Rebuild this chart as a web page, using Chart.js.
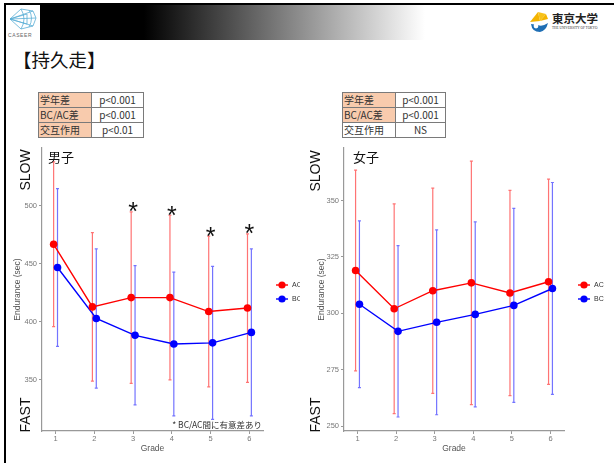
<!DOCTYPE html>
<html>
<head>
<meta charset="utf-8">
<script src="https://cdn.jsdelivr.net/npm/chart.js@4.4.1/dist/chart.umd.min.js"></script>
<style>
  body { margin: 0; width: 614px; height: 463px; overflow: hidden; background: #fff; position: relative;
         font-family: "Liberation Sans", Arial, sans-serif; }
  .line-top { position: absolute; left: 4px; top: 3px; width: 610px; height: 2px; background: #000; }
  .line-left { position: absolute; left: 4px; top: 3px; width: 2px; height: 460px; background: #000; }
  .bar { position: absolute; left: 40px; top: 5px; width: 385px; height: 35px;
         background: linear-gradient(to right, #000 0%, #000 27%, #fff 100%); }
  .logo { position: absolute; left: 7px; top: 6px; }
  .utokyo { position: absolute; left: 528px; top: 10px; }
  .title { position: absolute; left: 13px; top: 46px; font-size: 18.5px; color: #111;
           font-family: "Noto Sans CJK JP", sans-serif; }
  table.stats { position: absolute; top: 92px; border-collapse: collapse; font-size: 10px;
                font-family: "Noto Sans CJK JP", sans-serif; color: #333; }
  table.stats td { border: 1px solid #7a7a7a; height: 14px; padding: 0 1px; line-height: 14px; }
  table.stats td.k { background: #f8cbad; width: 50px; text-align: left; }
  table.stats td.k.plain { background: #fff; }
  table.stats td.v { text-align: center; }
  #boys { position: absolute; left: 0; top: 140px; }
  #girls { position: absolute; left: 300px; top: 140px; }
</style>
</head>
<body>
<div class="line-top"></div>
<div class="line-left"></div>
<div class="bar"></div>
<svg class="logo" width="32" height="34" viewBox="0 0 32 34">
  <g fill="none" stroke="#5aaed6" stroke-width="0.8">
    <path d="M3 13 L14 3 L26 5 L29 12 L26 20 L14 23 Z"/>
    <path d="M3 13 L29 12 M3 13 L26 5 M3 13 L26 20 M3 13 L20 8 L20 18 Z"/>
    <path d="M14 3 Q20 13 14 23 M22 4 Q27 12 22 21"/>
  </g>
  <text x="1" y="31" font-size="5" letter-spacing="0.6" fill="#666" font-family="Liberation Sans">CASEER</text>
</svg>
<svg class="utokyo" width="84" height="24" viewBox="0 0 84 24">
  <path d="M2 12 L10 2 L12 11 Z" fill="#f4b400"/>
  <path d="M10 2 L18 4 L12 11 Z" fill="#f7c21a"/>
  <path d="M12 11 L20 9 L18 4 Z" fill="#f4b400"/>
  <path d="M3 14 Q4 22 12 22 Q18 21 20 13 Q14 17 10 15 Z" fill="#1f6fb5"/>
  <circle cx="8" cy="16" r="2.4" fill="#fff"/>
  <text x="24" y="13" font-size="11.5" font-weight="bold" fill="#222"
        font-family="Noto Sans CJK JP">東京大学</text>
  <text x="24" y="19" font-size="3.4" fill="#333" font-family="Liberation Serif">THE UNIVERSITY OF TOKYO</text>
</svg>
<div class="title">【持久走】</div>

<table class="stats" style="left:38px">
  <tr><td class="k">学年差</td><td class="v" style="width:49px">p&lt;0.001</td></tr>
  <tr><td class="k">BC/AC差</td><td class="v">p&lt;0.001</td></tr>
  <tr><td class="k">交互作用</td><td class="v">p&lt;0.01</td></tr>
</table>
<table class="stats" style="left:342px">
  <tr><td class="k">学年差</td><td class="v" style="width:47px">p&lt;0.001</td></tr>
  <tr><td class="k">BC/AC差</td><td class="v">p&lt;0.001</td></tr>
  <tr><td class="k plain">交互作用</td><td class="v">NS</td></tr>
</table>

<canvas id="boys" width="300" height="323"></canvas>
<canvas id="girls" width="314" height="323"></canvas>

<script>
const grades = [1, 2, 3, 4, 5, 6];

// boys: mean and SD per grade (sec)
const boysAC = [467, 413, 421, 421, 409, 412];
const boysACsd = [71, 64, 74, 71, 65, 64];
const boysBC = [447, 403, 388.5, 381, 382, 391];
const boysBCsd = [68, 60, 60, 62, 66, 72];
const boysSignif = [false, false, true, true, true, true];
const boysTicks = [350, 400, 450, 500];
const boysRange = [306, 550];

// girls
const girlsAC = [319, 302, 310, 313.5, 309, 314];
const girlsACsd = [44.5, 46.5, 45.5, 54, 45.5, 45.5];
const girlsBC = [304, 292, 296, 299.5, 303.5, 311];
const girlsBCsd = [37, 38, 41, 41, 43, 47];
const girlsTicks = [250, 275, 300, 325, 350];
const girlsRange = [247.8, 373.3];

const dodge = 0.05;
const sansJP = '"Noto Sans CJK JP", sans-serif';

function series(label, color, errColor, means, sds, shift) {
  return {
    label,
    data: grades.map((g, i) => ({ x: g + shift, y: means[i] })),
    sd: sds,
    errColor,
    borderColor: color,
    backgroundColor: color,
    borderWidth: 1.4,
    pointRadius: 3.8,
    pointHoverRadius: 3.8,
    pointBorderWidth: 0,
    tension: 0
  };
}

// vertical mean ± SD bars behind the lines
const errorBars = {
  id: 'errorBars',
  beforeDatasetsDraw(chart) {
    const { ctx, scales: { x, y } } = chart;
    ctx.save();
    ctx.lineWidth = 1.2;
    chart.data.datasets.forEach(ds => {
      ctx.strokeStyle = ds.errColor;
      ds.data.forEach((p, i) => {
        const px = x.getPixelForValue(p.x);
        const top = y.getPixelForValue(p.y + ds.sd[i]);
        const bot = y.getPixelForValue(p.y - ds.sd[i]);
        ctx.beginPath();
        ctx.moveTo(px, top); ctx.lineTo(px, bot);
        ctx.moveTo(px - 1.5, top); ctx.lineTo(px + 1.5, top);
        ctx.moveTo(px - 1.5, bot); ctx.lineTo(px + 1.5, bot);
        ctx.stroke();
      });
    });
    ctx.restore();
  }
};

// panel title, SLOW/FAST markers, significance stars, note and legend
const panelText = {
  id: 'panelText',
  afterDraw(chart, args, opts) {
    const { ctx, chartArea: a, scales: { x, y } } = chart;
    ctx.save();
    ctx.fillStyle = '#111';

    ctx.font = '13px ' + sansJP;
    ctx.textBaseline = 'middle';
    ctx.textAlign = 'left';
    ctx.fillText(opts.title, a.left + opts.titleDx, a.top + 9);

    ctx.font = '14px "Liberation Sans", Arial, sans-serif';
    ctx.textAlign = 'center';
    [['SLOW', opts.slowY], ['FAST', opts.fastY]].forEach(([t, ty]) => {
      ctx.save();
      ctx.translate(opts.sideX, ty);
      ctx.rotate(-Math.PI / 2);
      ctx.fillText(t, 0, 0);
      ctx.restore();
    });

    if (opts.stars) {
      const ac = chart.data.datasets[0];
      ctx.font = '25px "Liberation Sans", Arial, sans-serif';
      ctx.textBaseline = 'alphabetic';
      opts.stars.forEach((on, i) => {
        if (!on) return;
        const top = y.getPixelForValue(ac.data[i].y + ac.sd[i]);
        ctx.fillText('*', x.getPixelForValue(grades[i]), top - 6 + 14.5);
      });
    }

    if (opts.note) {
      ctx.font = '8.5px ' + sansJP;
      ctx.fillStyle = '#333';
      ctx.textAlign = 'right';
      ctx.textBaseline = 'middle';
      ctx.fillText(opts.note, a.right - 1, a.bottom - 6);
    }

    // legend keys: short line with a dot, like the plotted series
    chart.data.datasets.forEach((ds, i) => {
      const cy = a.top + 137 + i * 14;
      const cx = a.right + opts.legendDx;
      ctx.strokeStyle = ds.borderColor;
      ctx.lineWidth = 1.4;
      ctx.beginPath();
      ctx.moveTo(cx - 6, cy); ctx.lineTo(cx + 6, cy);
      ctx.stroke();
      ctx.fillStyle = ds.borderColor;
      ctx.beginPath();
      ctx.arc(cx, cy, 3.6, 0, Math.PI * 2);
      ctx.fill();
      ctx.fillStyle = '#333';
      ctx.font = '7px "Liberation Sans", Arial, sans-serif';
      ctx.textAlign = 'left';
      ctx.textBaseline = 'middle';
      ctx.fillText(ds.label, cx + 10, cy + 0.5);
    });
    ctx.restore();
  }
};

function makeChart(id, ac, acSd, bc, bcSd, ticks, range, axisWidth, padRight, titlePad, text) {
  return new Chart(document.getElementById(id), {
    type: 'line',
    data: {
      datasets: [
        series('AC', '#ff0000', 'rgba(255,0,0,0.55)', ac, acSd, -dodge),
        series('BC', '#0000ff', 'rgba(0,0,255,0.55)', bc, bcSd, dodge)
      ]
    },
    options: {
      responsive: false,
      animation: false,
      layout: { padding: { left: 0, top: 8, right: padRight, bottom: 0 } },
      plugins: {
        legend: { display: false },
        tooltip: { enabled: false },
        panelText: text
      },
      scales: {
        x: {
          type: 'linear',
          min: 0.65,
          max: 6.35,
          afterFit: s => { s.height = 32; },
          afterBuildTicks: s => { s.ticks = grades.map(v => ({ value: v })); },
          ticks: { color: '#777', font: { size: 7.5 }, padding: 0 },
          grid: { drawOnChartArea: false, drawTicks: true, tickLength: 3, color: '#999' },
          border: { color: '#999', width: 1.2 },
          title: { display: true, text: 'Grade', color: '#555', font: { size: 8.5 },
                   padding: { top: 0, bottom: 9.5 } }
        },
        y: {
          type: 'linear',
          min: range[0],
          max: range[1],
          afterFit: s => { s.width = axisWidth; },
          afterBuildTicks: s => { s.ticks = ticks.map(v => ({ value: v })); },
          ticks: { color: '#777', font: { size: 7.5 }, padding: 2 },
          grid: { drawOnChartArea: false, drawTicks: true, tickLength: 3, color: '#999' },
          border: { color: '#999', width: 1.2 },
          title: { display: true, text: 'Endurance (sec)', color: '#555', font: { size: 8.5 },
                   padding: { top: titlePad, bottom: 0 } }
        }
      }
    },
    plugins: [errorBars, panelText]
  });
}

makeChart('boys', boysAC, boysACsd, boysBC, boysBCsd, boysTicks, boysRange, 42, 37, 13, {
  title: '男子', titleDx: 6, sideX: 26, slowY: 30, fastY: 275,
  stars: boysSignif, note: '* BC/AC間に有意差あり', legendDx: 19
});
makeChart('girls', girlsAC, girlsACsd, girlsBC, girlsBCsd, girlsTicks, girlsRange, 44, 50, 17, {
  title: '女子', titleDx: 9, sideX: 16, slowY: 31, fastY: 275,
  stars: null, note: null, legendDx: 20
});
</script>
</body>
</html>
